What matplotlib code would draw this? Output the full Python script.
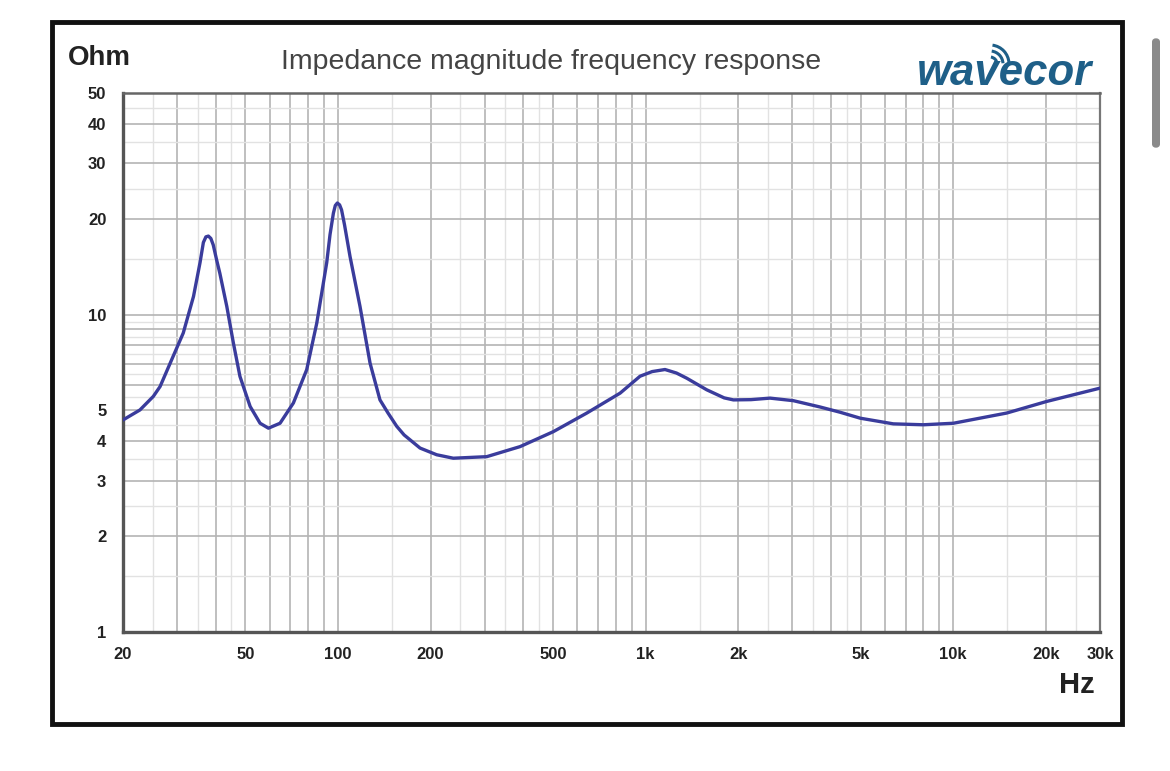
import numpy as np
import matplotlib
matplotlib.use("Agg")
import matplotlib.pyplot as plt
from matplotlib.patches import Rectangle, FancyBboxPatch, Arc
from matplotlib.ticker import FixedLocator, NullFormatter

# impedance curve (Hz, Ohm)
freq = [20.0, 22.7, 25.1, 26.4, 29.1, 31.4, 33.9, 35.6, 36.5, 37.2, 37.9, 38.6,
        39.3, 40.3, 41.3, 43.5, 45.7, 48.0, 51.8, 55.8, 59.4, 64.8, 71.6, 79.1,
        85.3, 91.9, 94.2, 96.6, 98.0, 99.5, 101.2, 102.7, 105.0, 109.4, 117.9,
        127.1, 136.9, 145.4, 155.2, 164.0, 184.8, 209.3, 237, 304.4, 390.6, 501,
        644, 826, 959, 1050, 1156, 1260, 1360, 1580, 1800, 1929, 2200, 2538, 3021,
        3690, 4283, 4985, 6386, 7998, 10010, 14925, 20130, 30000]
ohm = [4.66, 5.01, 5.53, 5.94, 7.39, 8.76, 11.42, 14.6, 16.9, 17.6, 17.7, 17.4,
       16.6, 14.9, 13.5, 10.62, 8.14, 6.39, 5.14, 4.55, 4.39, 4.55, 5.27, 6.71,
       9.41, 14.6, 17.9, 20.9, 22.1, 22.5, 22.2, 21.4, 19.2, 15.27, 10.62,
       7.04, 5.39, 4.90, 4.45, 4.18, 3.80, 3.62, 3.53, 3.57, 3.84, 4.28,
       4.90, 5.66, 6.40, 6.62, 6.72, 6.55, 6.31, 5.80, 5.47, 5.39, 5.40, 5.46, 5.36,
       5.12, 4.93, 4.72, 4.53, 4.50, 4.55, 4.90, 5.33, 5.87]

xticks = [20, 50, 100, 200, 500, 1000, 2000, 5000, 10000, 20000, 30000]
xlabels = ["20", "50", "100", "200", "500", "1k", "2k", "5k", "10k", "20k", "30k"]
yticks = [1, 2, 3, 4, 5, 10, 20, 30, 40, 50]
ylabels = ["1", "2", "3", "4", "5", "10", "20", "30", "40", "50"]

plt.rcParams['font.family'] = ['Liberation Sans', 'DejaVu Sans']

fig = plt.figure(figsize=(11.7, 7.71), dpi=100)
fig.patch.set_facecolor("white")

# outer black frame
fig.patches.append(Rectangle((52 / 1170, 1 - 724 / 771), 1070 / 1170, 702 / 771,
                             transform=fig.transFigure, fill=False,
                             edgecolor="#111111", linewidth=3.5))
# scrollbar of the screenshot
fig.patches.append(FancyBboxPatch((1152 / 1170, 1 - 148 / 771), 8 / 1170, 110 / 771,
                                  boxstyle="round,pad=0,rounding_size=0.005",
                                  transform=fig.transFigure, facecolor="#8a8a8a",
                                  edgecolor="none"))

ax = fig.add_axes([123 / 1170, 1 - 632 / 771, 977 / 1170, 539 / 771])
ax.set_xscale("log")
ax.set_yscale("log")
ax.set_xlim(20, 30000)
ax.set_ylim(1, 50)

# grid lines
vgrid_major = []
vgrid_minor = []
for dec in [10, 100, 1000, 10000]:
    for m in [1, 2, 3, 4, 5, 6, 7, 8, 9]:
        vgrid_major.append(m * dec)
    for m in [1.5, 2.5, 3.5, 4.5]:
        vgrid_minor.append(m * dec)
vgrid_major = [v for v in vgrid_major if 20 < v < 30000]
vgrid_minor = [v for v in vgrid_minor if 20 < v < 30000]
hgrid_major = [2, 3, 4, 5, 6, 7, 8, 9, 10, 20, 30, 40]
hgrid_minor = [1.5, 2.5, 3.5, 4.5, 5.5, 6.5, 7.5, 8.5, 9.5, 15, 25, 35, 45]
for v in vgrid_major:
    ax.axvline(v, color="#b4b4b4", lw=1.2, zorder=1)
for v in vgrid_minor:
    ax.axvline(v, color="#e2e2e2", lw=1.0, zorder=1)
for h in hgrid_major:
    ax.axhline(h, color="#b4b4b4", lw=1.2, zorder=1)
for h in hgrid_minor:
    ax.axhline(h, color="#e2e2e2", lw=1.0, zorder=1)

ax.plot(freq, ohm, color="#3a3c9c", lw=2.4, zorder=3,
        solid_capstyle="round", solid_joinstyle="round")

ax.xaxis.set_major_locator(FixedLocator(xticks))
ax.set_xticklabels(xlabels)
ax.xaxis.set_minor_formatter(NullFormatter())
ax.xaxis.set_minor_locator(FixedLocator([]))
ax.yaxis.set_major_locator(FixedLocator(yticks))
ax.set_yticklabels(ylabels)
ax.yaxis.set_minor_formatter(NullFormatter())
ax.yaxis.set_minor_locator(FixedLocator([]))
ax.tick_params(axis="both", length=0, labelsize=12, colors="#222222")
ax.tick_params(axis="x", pad=11)
ax.tick_params(axis="y", pad=12)
for lab in ax.get_xticklabels() + ax.get_yticklabels():
    lab.set_fontweight("bold")

for side in ["left", "bottom"]:
    ax.spines[side].set_color("#555555")
    ax.spines[side].set_linewidth(2.4)
ax.spines["top"].set_color("#666666")
ax.spines["top"].set_linewidth(1.8)
ax.spines["right"].set_color("#777777")
ax.spines["right"].set_linewidth(1.6)

fig.text(68 / 1170, 1 - 58 / 771, "Ohm", fontsize=20, fontweight="bold",
         color="#222222", va="center", ha="left")
fig.text(551 / 1170, 1 - 62 / 771, "Impedance magnitude frequency response",
         fontsize=20.5, color="#444444", va="center", ha="center")
fig.text(1095 / 1170, 1 - 685 / 771, "Hz", fontsize=21, fontweight="bold",
         color="#222222", va="center", ha="right")

# wavecor logo
fig.text(917 / 1170, 1 - 85 / 771, "wavecor", fontsize=31.5, fontweight="bold",
         fontstyle="italic", color="#1e5f88", va="baseline", ha="left",
         family=["Liberation Sans", "DejaVu Sans"])
for r in [7, 13, 19]:
    fig.patches.append(Arc((990 / 1170, 1 - 64 / 771), 2 * r / 1170, 2 * r / 771,
                           theta1=5, theta2=85, transform=fig.transFigure,
                           color="#1e5f88", lw=2.2))

fig.savefig("out.png", dpi=100, facecolor="white")
